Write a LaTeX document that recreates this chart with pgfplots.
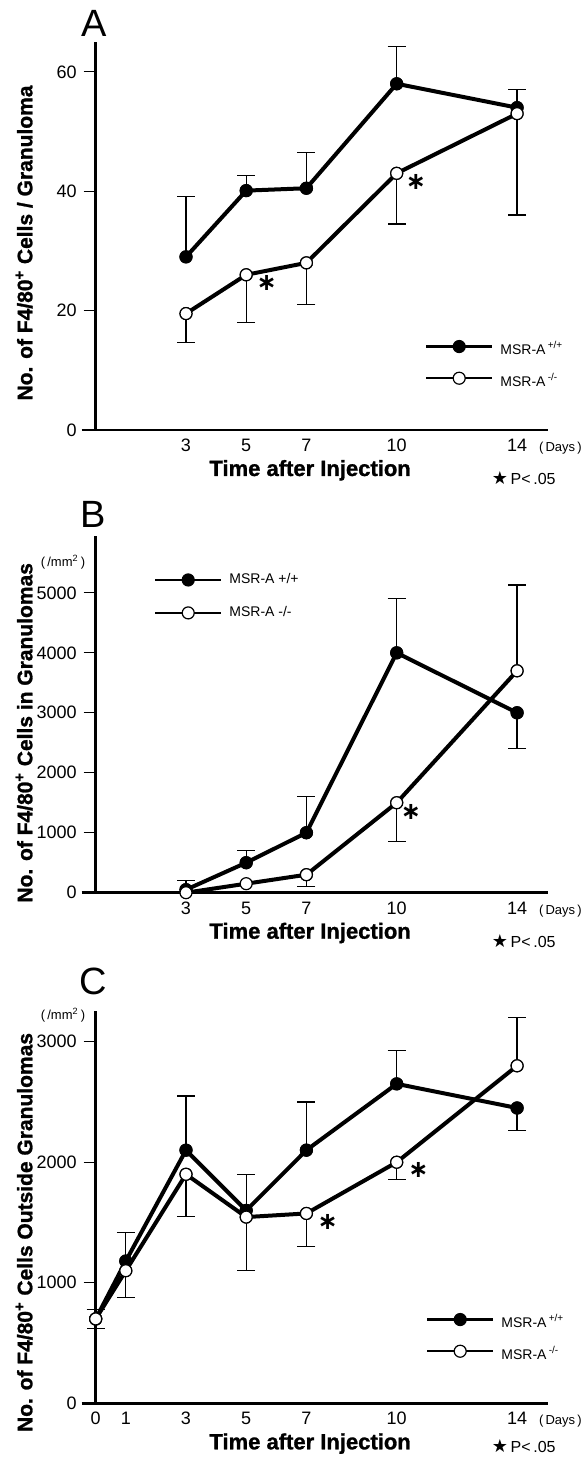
\documentclass[border=0pt]{standalone}
\usepackage{fontspec}
\setmainfont{Liberation Sans}
\newfontfamily\starfont{DejaVu Sans}
\newfontfamily\heavy[FakeBold=1.2]{Liberation Sans}
\usepackage{pgfplots}
\usepackage{pgfplotstable}
\pgfplotsset{compat=1.18}

% x = day, y = mean, e = signed error bar (+ up, - down)
\pgfplotstableread{
x y e
3 29.0 10.1
5 40.1 2.5
7 40.5 6.0
10 58.0 6.3
14 54.0 3.0
}\Afill
\pgfplotstableread{
x y e
3 19.5 -4.8
5 26.0 -8.0
7 28.0 -7.0
10 43.0 -8.5
14 53.0 -17.0
}\Aopen
\pgfplotstableread{
x y e
3 50 150
5 500 200
7 1000 600
10 4000 900
14 3000 -600
}\Bfill
\pgfplotstableread{
x y e
7 300 -200
10 1500 -650
14 3700 1430
}\Bopenerr
\pgfplotstableread{
x y
3 0
5 150
7 300
10 1500
14 3700
}\Bopen
\pgfplotstableread{
x y e
0 700 75
1 1180 240
3 2100 450
5 1600 300
7 2100 400
10 2650 275
14 2450 -190
}\Cfill
\pgfplotstableread{
x y e
0 700 -80
1 1100 -225
3 1900 -350
5 1545 -445
7 1575 -275
10 2000 -145
14 2800 400
}\Copen

\pgfplotsset{
  panel/.style={
    scale only axis, width=226.2pt, anchor=south west,
    xmin=0, xmax=15.03, ymin=0,
    axis lines*=left,
    axis line style={line width=1.3pt, black},
    tick align=outside, major tick length=6pt,
    ytick style={line width=0.6pt, black},
    xtick style={draw=none},
    ticklabel style={font=\fontsize{9}{10}\selectfont},
    xticklabel style={yshift=5pt},
    /pgf/number format/assume math mode=true,
    /pgf/number format/1000 sep={},
    ylabel style={font=\heavy\bfseries\fontsize{10.5}{12}\selectfont, anchor=center},
    xlabel style={at={(axis description cs:0.474,0)}, anchor=base, yshift=-23pt,
      font=\heavy\bfseries\fontsize{11}{12}\selectfont},
    xlabel={Time after Injection},
    clip=false,
    legend cell align=left,
    legend style={draw=none, fill=none, inner sep=0pt, outer sep=0pt,
      anchor=north west, font=\fontsize{7}{8}\selectfont,
      column sep=3pt, nodes={inner sep=0.5pt}},
  },
  ebar/.style={only marks, mark=*, mark size=3pt, forget plot,
    mark options={fill=white, draw=black, line width=0.6pt},
    error bars/y dir=plus, error bars/y explicit, error bars/error mark=-,
    error bars/error bar style={line width=0.6pt, black, solid},
    error bars/error mark options={rotate=90, line width=0.6pt, mark size=4.5pt, black}},
  wt/.style={black, line width=2pt, mark=*, mark size=3pt,
    mark options={solid, fill=black, line width=0.6pt}},
  ko/.style={black, line width=2pt, mark=*, mark size=3pt,
    mark options={solid, fill=white, draw=black, line width=0.6pt}},
}
\tikzset{aster/.style={font=\starfont\bfseries\fontsize{12}{13}\selectfont}}

\begin{document}
\begin{tikzpicture}
\path[use as bounding box] (0,0) rectangle (290pt,730pt);

% ---- A ----
\begin{axis}[panel, at={(47.85pt,515pt)}, height=194pt, ymax=65,
  ytick={0,20,40,60}, xtick={3,5,7,10,14},
  ylabel={No. of F4/80\textsuperscript{+} Cells / Granuloma},
  ylabel style={at={(axis description cs:-0.158,0.482)}},
  legend image code/.code={\draw[#1, line width=1.2pt, mark repeat=2, mark phase=2]
    plot coordinates {(0pt,1.5pt) (16.5pt,1.5pt) (33pt,1.5pt)};},
  legend style={at={(axis description cs:0.7279,0.2309)}, row sep=6.7pt}]
\addplot[ebar] table[x=x,y=y,y error=e] {\Afill};
\addplot[ebar] table[x=x,y=y,y error=e] {\Aopen};
\addplot[wt] table[x=x,y=y] {\Afill};
\addlegendentry{MSR-A\,\textsuperscript{+/+}}
\addplot[ko] table[x=x,y=y] {\Aopen};
\addlegendentry{MSR-A\,\textsuperscript{-/-}}
\draw[line width=1.3pt] (axis cs:-0.47,0) -- (axis cs:0,0);
\node[aster] at (axis cs:5.68,24.6) {\char"2217};
\node[aster] at (axis cs:10.64,41.6) {\char"2217};
\node[anchor=base west, yshift=-10.75pt, font=\fontsize{6.5}{7}\selectfont] at (axis description cs:0.9644,0) {(\,Days\,)};
\node[anchor=base west, yshift=-27.5pt, font=\fontsize{8}{9}\selectfont] at (axis description cs:0.86,0) {{\starfont\fontsize{9}{9}\selectfont\char"2605}\,P<\,.05};
\end{axis}

% ---- B ----
\begin{axis}[panel, at={(47.85pt,283.65pt)}, height=178.4pt, ymax=5950,
  ytick={0,1000,2000,3000,4000,5000}, xtick={3,5,7,10,14},
  ylabel={No. of F4/80\textsuperscript{+} Cells in Granulomas},
  ylabel style={at={(axis description cs:-0.158,0.448)}},
  legend image code/.code={\draw[#1, line width=1.2pt, mark repeat=2, mark phase=2]
    plot coordinates {(0pt,0pt) (16.5pt,0pt) (33pt,0pt)};},
  legend style={at={(axis description cs:0.1289,0.8977)}, row sep=8.9pt}]
\addplot[ebar] table[x=x,y=y,y error=e] {\Bfill};
\addplot[ebar] table[x=x,y=y,y error=e] {\Bopenerr};
\addplot[wt] table[x=x,y=y] {\Bfill};
\addlegendentry{MSR-A +/+}
\addplot[ko] table[x=x,y=y] {\Bopen};
\addlegendentry{MSR-A -/-}
\draw[line width=1.3pt] (axis cs:-0.47,0) -- (axis cs:0,0);
\node[aster] at (axis cs:10.47,1350) {\char"2217};
\node[anchor=base west, yshift=-10.75pt, font=\fontsize{6.5}{7}\selectfont] at (axis description cs:0.9644,0) {(\,Days\,)};
\node[anchor=base west, yshift=-27.5pt, font=\fontsize{8}{9}\selectfont] at (axis description cs:0.86,0) {{\starfont\fontsize{9}{9}\selectfont\char"2605}\,P<\,.05};
\end{axis}

% ---- C ----
\begin{axis}[panel, at={(47.85pt,28.35pt)}, height=196.35pt, ymax=3258,
  ytick={0,1000,2000,3000}, xtick={0,1,3,5,7,10,14},
  ylabel={No. of F4/80\textsuperscript{+} Cells Outside Granulomas},
  ylabel style={at={(axis description cs:-0.158,0.435)}},
  legend image code/.code={\draw[#1, line width=1.2pt, mark repeat=2, mark phase=2]
    plot coordinates {(0pt,1.5pt) (16.5pt,1.5pt) (33pt,1.5pt)};},
  legend style={at={(axis description cs:0.7301,0.2289)}, row sep=6.7pt}]
\addplot[ebar] table[x=x,y=y,y error=e] {\Cfill};
\addplot[ebar] table[x=x,y=y,y error=e] {\Copen};
\addplot[wt] table[x=x,y=y] {\Cfill};
\addlegendentry{MSR-A\,\textsuperscript{+/+}}
\addplot[ko] table[x=x,y=y] {\Copen};
\addlegendentry{MSR-A\,\textsuperscript{-/-}}
\draw[line width=1.3pt] (axis cs:-0.47,0) -- (axis cs:0,0);
\node[aster] at (axis cs:7.71,1508) {\char"2217};
\node[aster] at (axis cs:10.72,1939) {\char"2217};
\node[anchor=base west, yshift=-10.75pt, font=\fontsize{6.5}{7}\selectfont] at (axis description cs:0.9644,0) {(\,Days\,)};
\node[anchor=base west, yshift=-24.75pt, font=\fontsize{8}{9}\selectfont] at (axis description cs:0.86,0) {{\starfont\fontsize{9}{9}\selectfont\char"2605}\,P<\,.05};
\end{axis}

% panel letters and units
\node[anchor=base, font=\fontsize{19}{20}\selectfont] at (47pt,711.5pt) {A};
\node[anchor=base, font=\fontsize{19}{20}\selectfont] at (46.75pt,466pt) {B};
\node[anchor=base, font=\fontsize{19}{20}\selectfont] at (46.75pt,232.5pt) {C};
\node[font=\fontsize{6.5}{7}\selectfont] at (31.5pt,449pt) {(\,/mm\textsuperscript{2}\,)};
\node[font=\fontsize{6.5}{7}\selectfont] at (31.5pt,222.5pt) {(\,/mm\textsuperscript{2}\,)};
\end{tikzpicture}
\end{document}
